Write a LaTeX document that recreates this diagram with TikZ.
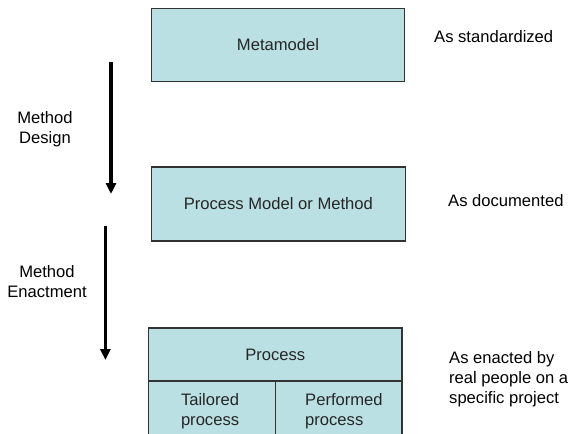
\documentclass[tikz,border=0pt]{standalone}
\usepackage{fontspec}
\setmainfont{Liberation Sans}
\usetikzlibrary{arrows.meta}
\definecolor{bleu}{HTML}{BBE0E3}
\definecolor{bord}{HTML}{333333}
\begin{document}
\begin{tikzpicture}[x=1pt,y=-1pt,font=\fontsize{16.6}{20}\selectfont]
\tikzstyle{fleche}=[-{Triangle[length=11pt,width=10pt]},line width=3.4pt]
\tikzset{boite/.style={draw=bord,line width=1.6pt,fill=bleu,inner sep=0pt,text=black!85}}
\useasboundingbox (0,0) rectangle (568,434);
\clip (0,0) rectangle (568,434);
\node[boite,minimum width=253pt,minimum height=73pt] (M) at (278,45) {Metamodel};
\node[boite,minimum width=254pt,minimum height=74pt] (PM) at (278.4,203.7) {Process Model or Method};
\node[boite,minimum width=253.4pt,minimum height=53.3pt] (P) at (275.3,354.4) {Process};
\node[boite,minimum width=126.8pt,minimum height=60pt,anchor=north west,
  align=left,text width=62pt,yshift=1pt] (T) at (P.south west) {Tailored\\process};
\node[boite,minimum width=126.6pt,minimum height=60pt,anchor=north east,
  align=left,text width=67pt,yshift=1pt] (PF) at (P.south east) {Performed\\process};

\coordinate (d1) at (111,62);
\coordinate (f1) at (111,194);
\coordinate (d2) at (105.4,225.7);
\coordinate (f2) at (105.4,360);
\draw[fleche] (d1) -- (f1);
\draw[fleche] (d2) -- (f2);

\node[align=center] (MD) at (45,129.5) {Method\\Design};
\node[align=center] (ME) at (47,282) {Method\\Enactment};

\node[anchor=west,inner sep=0pt] (S) at (434,37) {As standardized};
\node[anchor=west,inner sep=0pt] (D) at (448,201) {As documented};
\node[anchor=west,inner sep=0pt,align=left] (E) at (449,379) {As enacted by\\real people on a\\specific project};
\end{tikzpicture}
\end{document}
